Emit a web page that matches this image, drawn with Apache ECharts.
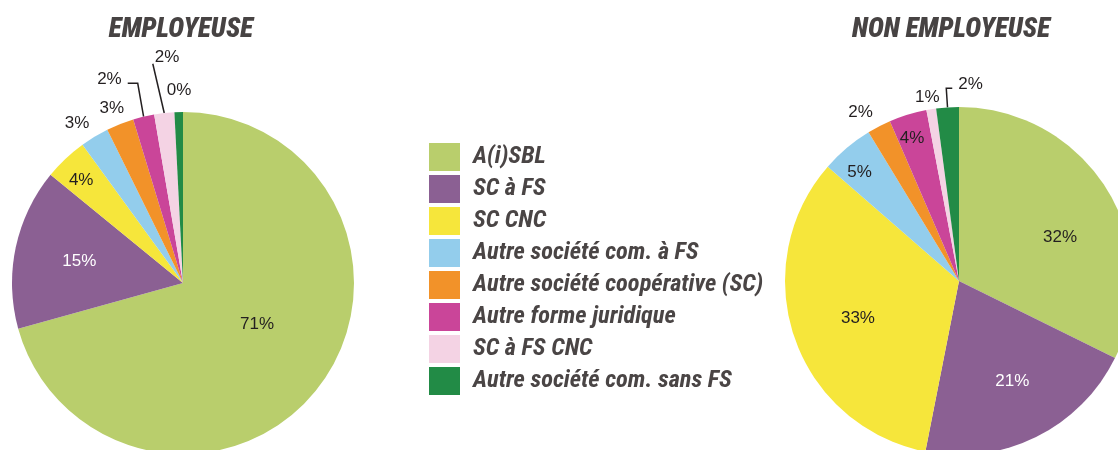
<!DOCTYPE html>
<html>
<head>
<meta charset="utf-8">
<script src="https://cdn.jsdelivr.net/npm/echarts@6/dist/echarts.min.js"></script>
<style>
  html, body { margin: 0; padding: 0; background: #ffffff; }
  #chart { width: 1118px; height: 450px; }
</style>
</head>
<body>
<div id="chart"></div>
<script>
// ---- Data ----
const categories = [
  'A(i)SBL',
  'SC à FS',
  'SC CNC',
  'Autre société com. à FS',
  'Autre société coopérative (SC)',
  'Autre forme juridique',
  'SC à FS CNC',
  'Autre société com. sans FS'
];
const employeuseValues = [70.7, 15.2, 4.1, 2.7, 2.6, 2.0, 1.9, 0.8];
const employeuseLabels = ['71%', '15%', '4%', '3%', '3%', '2%', '2%', '0%'];
const nonEmployeuseValues = [32.3, 20.8, 33.3, 4.9, 2.2, 3.5, 0.9, 2.1];
const nonEmployeuseLabels = ['32%', '21%', '33%', '5%', '2%', '4%', '1%', '2%'];
const titles = ['EMPLOYEUSE', 'NON EMPLOYEUSE'];

// ---- Styles ----
const colors = ['#B9CE6C', '#8B6093', '#F6E63B', '#93CDEC', '#F29229', '#CA4599', '#F4D3E4', '#228B46'];
const labelColors = ['#231F20', '#FFFFFF', '#231F20', '#231F20', '#231F20', '#231F20', '#231F20', '#231F20'];
const LEFT = { cx: 183, cy: 283, r: 171 };
const RIGHT = { cx: 959, cy: 281, r: 174 };

// label placement specs (f: fraction of radius along slice mid-angle)
const leftSpecs = [
  { f: 0.5, dx: 6, dy: -10 },
  { f: 0.62 },
  { f: 0.85, dx: -2, dy: 3 },
  { f: 1.12, dx: -7, dy: 4 },
  { f: 1.10, dx: -2 },
  { line: { f: 1.2, kdx: 2, h: -10 }, lx: -6, ly: -4, align: 'right' },
  { line: { f: 1.29, kdx: -6, h: 0 }, lx: 2, ly: -6, align: 'left' },
  { f: 1.13, dx: 1 }
];
const rightSpecs = [
  { f: 0.63, dx: 8, dy: 14 },
  { f: 0.64, dx: 4 },
  { f: 0.62, dx: 1, dy: 2 },
  { f: 0.85, dx: -4, dy: 4 },
  { f: 1.13, dx: -8, dy: 6 },
  { f: 0.86, dx: -3 },
  { f: 1.07, dx: -2 },
  { line: { f: 1.11, kdx: 0, h: 6 }, lx: 6, ly: -4, align: 'left' }
];

function makeLayout(values, geo, specs) {
  const total = values.reduce((a, b) => a + b, 0);
  const mids = [];
  let s = 0;
  values.forEach(v => { mids.push((s + v / 2) / total * 2 * Math.PI); s += v; });
  return function (params) {
    const i = params.dataIndex;
    const sp = specs[i];
    const a = mids[i];
    const dx = Math.sin(a), dy = -Math.cos(a);
    if (sp.line) {
      const p0 = [geo.cx + dx * geo.r, geo.cy + dy * geo.r];
      const p1 = [geo.cx + dx * geo.r * sp.line.f + sp.line.kdx, geo.cy + dy * geo.r * sp.line.f];
      const p2 = [p1[0] + sp.line.h, p1[1]];
      return {
        x: p2[0] + sp.lx,
        y: p2[1] + sp.ly,
        align: sp.align,
        verticalAlign: 'middle',
        labelLinePoints: [p0, p1, p2]
      };
    }
    return {
      x: geo.cx + dx * geo.r * sp.f + (sp.dx || 0),
      y: geo.cy + dy * geo.r * sp.f + (sp.dy || 0),
      align: 'center',
      verticalAlign: 'middle'
    };
  };
}

function buildData(values, labels, specs) {
  return categories.map((name, i) => ({
    name: name,
    value: values[i],
    itemStyle: { color: colors[i] },
    label: { formatter: labels[i], color: labelColors[i] },
    labelLine: { show: !!specs[i].line }
  }));
}

const pieBase = {
  type: 'pie',
  startAngle: 90,
  clockwise: true,
  avoidLabelOverlap: false,
  silent: true,
  animation: false,
  itemStyle: { borderWidth: 0 },
  label: {
    show: true,
    position: 'outside',
    fontFamily: 'Liberation Sans',
    fontSize: 17,
    color: '#231F20'
  },
  labelLine: {
    show: false,
    smooth: false,
    lineStyle: { color: '#231F20', width: 1.5 }
  }
};

const titleStyle = {
  fontFamily: 'Roboto Condensed',
  fontStyle: 'italic',
  fontWeight: 900,
  fontSize: 27,
  color: '#474343'
};

const chart = echarts.init(document.getElementById('chart'), null, { renderer: 'canvas' });
chart.setOption({
  animation: false,
  backgroundColor: '#ffffff',
  title: [
    { text: titles[0], left: 176, top: 12, textAlign: 'center', textStyle: titleStyle },
    { text: titles[1], left: 946, top: 12, textAlign: 'center', textStyle: titleStyle }
  ],
  legend: {
    data: categories,
    orient: 'vertical',
    left: 429,
    top: 143,
    padding: 0,
    icon: 'rect',
    itemWidth: 31,
    itemHeight: 28,
    itemGap: 4,
    selectedMode: false,
    textStyle: {
      fontFamily: 'Roboto Condensed',
      fontStyle: 'italic',
      fontWeight: 'bold',
      fontSize: 24.4,
      color: '#4A4545',
      padding: [0, 0, 0, 8]
    }
  },
  series: [
    Object.assign({}, pieBase, {
      name: titles[0],
      center: [LEFT.cx, LEFT.cy],
      radius: [0, LEFT.r],
      data: buildData(employeuseValues, employeuseLabels, leftSpecs),
      labelLayout: makeLayout(employeuseValues, LEFT, leftSpecs)
    }),
    Object.assign({}, pieBase, {
      name: titles[1],
      center: [RIGHT.cx, RIGHT.cy],
      radius: [0, RIGHT.r],
      data: buildData(nonEmployeuseValues, nonEmployeuseLabels, rightSpecs),
      labelLayout: makeLayout(nonEmployeuseValues, RIGHT, rightSpecs)
    })
  ]
});
</script>
</body>
</html>
